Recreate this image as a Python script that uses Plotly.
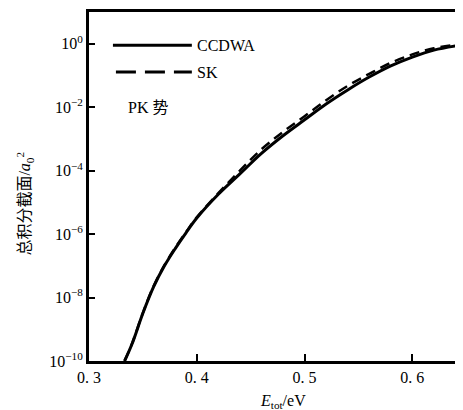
import plotly.graph_objects as go

E_ccdwa = [0.333, 0.340, 0.350, 0.360, 0.370, 0.380, 0.390, 0.400, 0.420, 0.440, 0.460,
           0.480, 0.500, 0.520, 0.540, 0.560, 0.580, 0.600, 0.620, 0.647]
sigma_ccdwa = [1.0e-10, 3.5e-10, 3.2e-9, 2.2e-8, 1.0e-7, 3.5e-7, 1.1e-6, 3.2e-6,
               1.8e-5, 7.9e-5, 3.5e-4, 1.26e-3, 4.0e-3, 1.26e-2, 3.5e-2, 8.9e-2,
               0.20, 0.38, 0.63, 0.93]

E_sk = [0.333, 0.340, 0.350, 0.360, 0.370, 0.380, 0.390, 0.400, 0.420, 0.440, 0.460,
        0.480, 0.500, 0.520, 0.540, 0.560, 0.580, 0.600, 0.620, 0.647]
sigma_sk = [1.0e-10, 3.6e-10, 3.3e-9, 2.3e-8, 1.05e-7, 3.7e-7, 1.15e-6, 3.4e-6,
            1.95e-5, 1.0e-4, 4.7e-4, 1.66e-3, 5.2e-3, 1.66e-2, 4.7e-2, 0.112,
            0.25, 0.46, 0.72, 0.98]

x_tickvals = [0.3, 0.4, 0.5, 0.6]
x_ticktext = ["0. 3", "0. 4", "0. 5", "0. 6"]
y_tickvals = [1e0, 1e-2, 1e-4, 1e-6, 1e-8, 1e-10]
y_ticktext = ["10<sup>0</sup>", "10<sup>−2</sup>", "10<sup>−4</sup>",
              "10<sup>−6</sup>", "10<sup>−8</sup>", "10<sup>−10</sup>"]

serif = "Liberation Serif, Times New Roman, serif"
cjk = "Liberation Serif, Noto Sans CJK SC, serif"

fig = go.Figure()
fig.add_trace(go.Scatter(x=E_ccdwa, y=sigma_ccdwa, mode="lines", name="CCDWA",
                         showlegend=False,
                         line=dict(color="black", width=3, shape="spline")))
fig.add_trace(go.Scatter(x=E_sk, y=sigma_sk, mode="lines", name="SK",
                         showlegend=False,
                         line=dict(color="black", width=2.5, dash="10px,6px", shape="spline")))

# legend drawn manually (long sample lines as in the reference)
fig.add_shape(type="line", xref="paper", yref="paper", x0=0.064, x1=0.275, y0=0.905, y1=0.905,
              line=dict(color="black", width=3))
fig.add_shape(type="line", xref="paper", yref="paper", x0=0.072, x1=0.275, y0=0.828, y1=0.828,
              line=dict(color="black", width=3, dash="20px,9px"))
fig.add_annotation(x=0.283, y=0.905, xref="paper", yref="paper", xanchor="left", yanchor="middle",
                   text="CCDWA", showarrow=False, font=dict(family=serif, size=16, color="black"))
fig.add_annotation(x=0.283, y=0.828, xref="paper", yref="paper", xanchor="left", yanchor="middle",
                   text="SK", showarrow=False, font=dict(family=serif, size=16, color="black"))
fig.add_annotation(x=0.1, y=0.727, xref="paper", yref="paper", xanchor="left", yanchor="middle",
                   text="PK 势", showarrow=False, font=dict(family=cjk, size=16, color="black"))

# axis titles
fig.add_annotation(x=-0.172, y=0.45, xref="paper", yref="paper", xanchor="center", yanchor="middle",
                   text="总积分截面/<i>a</i><sub>0</sub><sup>2</sup>", textangle=-90, showarrow=False,
                   font=dict(family=cjk, size=16, color="black"))
fig.add_annotation(x=0.519, y=-0.115, xref="paper", yref="paper", xanchor="center", yanchor="middle",
                   text="<i>E</i><sub>tot</sub>/eV", showarrow=False,
                   font=dict(family=serif, size=16, color="black"))

fig.update_layout(
    width=455, height=402,
    margin=dict(l=81, r=0, t=4, b=49, autoexpand=False),
    plot_bgcolor="white", paper_bgcolor="white",
    font=dict(family=serif, size=16, color="black"),
    showlegend=False,
    xaxis=dict(range=[0.3, 0.647], tickvals=x_tickvals, ticktext=x_ticktext,
               ticks="inside", ticklen=7, tickwidth=2, tickcolor="black",
               tickfont=dict(family=serif, size=16), automargin=False,
               showline=True, linewidth=3, linecolor="black", mirror=True,
               showgrid=False, zeroline=False),
    yaxis=dict(type="log", range=[-10, 1], tickvals=y_tickvals, ticktext=y_ticktext,
               ticks="inside", ticklen=6, tickwidth=2, tickcolor="black",
               tickfont=dict(family=serif, size=16), automargin=False,
               showline=True, linewidth=3, linecolor="black", mirror=False,
               showgrid=False, zeroline=False),
)

fig.write_html("out.html")
